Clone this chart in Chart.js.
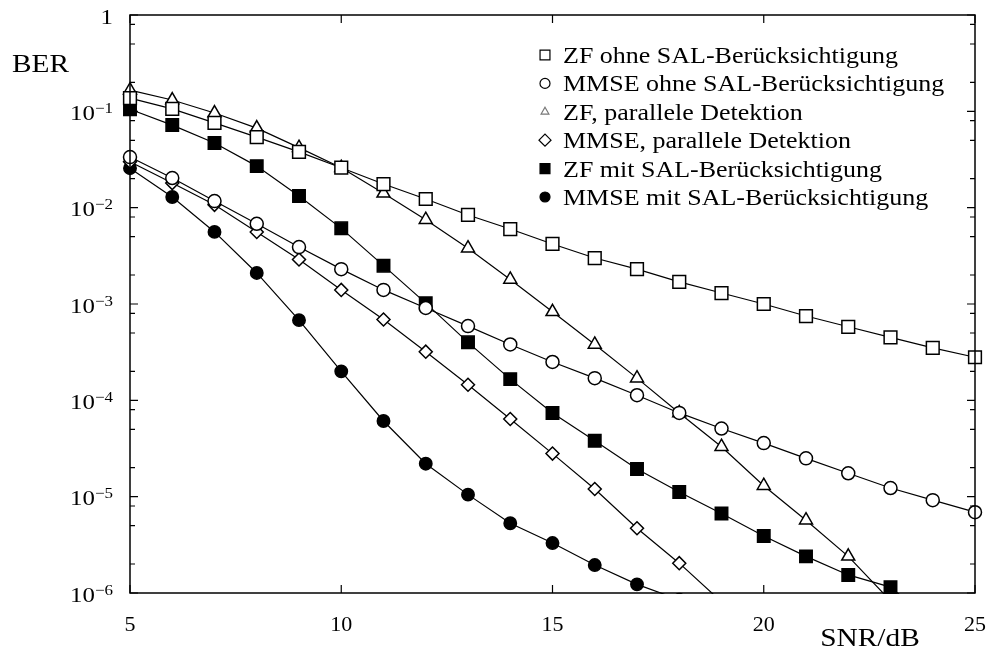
<!DOCTYPE html>
<html>
<head>
<meta charset="utf-8">
<script src="https://cdn.jsdelivr.net/npm/chart.js@4.4.0/dist/chart.umd.min.js"></script>
<style>
  html, body { margin: 0; padding: 0; background: #fff; }
  canvas { display: block; }
</style>
</head>
<body>
<canvas id="ber" width="990" height="657"></canvas>
<script>
// SNR in dB and measured bit error rates (null = below plotted range)
const snr = [5, 6, 7, 8, 9, 10, 11, 12, 13, 14, 15, 16, 17, 18, 19, 20, 21, 22, 23, 24, 25];
const zfOhne = [0.137, 0.106, 0.076, 0.054, 0.038, 0.026, 0.0176, 0.0123, 0.0084, 0.006, 0.0042,
  0.003, 0.0023, 0.0017, 0.0013, 0.001, 0.00075, 0.00058, 0.00045, 0.00035, 0.00028];
const mmseOhne = [0.0335, 0.0203, 0.0117, 0.0068, 0.0039, 0.0023, 0.0014, 0.00091, 0.00059, 0.00038, 0.00025,
  0.00017, 0.000113, 7.4e-5, 5.1e-5, 3.6e-5, 2.5e-5, 1.75e-5, 1.23e-5, 9.2e-6, 6.9e-6];
const zfParallel = [0.166, 0.131, 0.096, 0.067, 0.042, 0.026, 0.0141, 0.0075, 0.0038, 0.0018, 0.00083,
  0.00038, 0.00017, 7.4e-5, 3.3e-5, 1.3e-5, 5.7e-6, 2.4e-6, 8.3e-7, null, null];
const mmseParallel = [0.030, 0.018, 0.0107, 0.0056, 0.0029, 0.0014, 0.00069, 0.00032, 0.000145, 6.4e-5, 2.8e-5,
  1.2e-5, 4.7e-6, 2.04e-6, 8.1e-7, null, null, null, null, null, null];
const zfMit = [0.105, 0.072, 0.047, 0.027, 0.0132, 0.0061, 0.0025, 0.00102, 0.0004, 0.000166, 7.4e-5,
  3.8e-5, 1.94e-5, 1.12e-5, 6.7e-6, 3.9e-6, 2.4e-6, 1.54e-6, 1.15e-6, 5e-7, null];
const mmseMit = [0.0257, 0.0129, 0.0056, 0.0021, 0.00068, 0.0002, 6.1e-5, 2.2e-5, 1.05e-5, 5.3e-6, 3.3e-6,
  1.95e-6, 1.23e-6, 8.5e-7, null, null, null, null, null, null, null];

const labels = [
  'ZF ohne SAL-Berücksichtigung',
  'MMSE ohne SAL-Berücksichtigung',
  'ZF, parallele Detektion',
  'MMSE, parallele Detektion',
  'ZF mit SAL-Berücksichtigung',
  'MMSE mit SAL-Berücksichtigung'
];
const xTicks = [5, 10, 15, 20, 25];
const yExponents = [0, -1, -2, -3, -4, -5, -6];
const minorSteps = [2, 5, 8];

const SERIF = '"Liberation Serif", serif';
const STRETCH = 1.13;

function series(label, values, style) {
  return Object.assign({
    label: label,
    data: values.map((v, i) => ({ x: snr[i], y: v })).filter(p => p.y !== null),
    borderColor: '#000',
    borderWidth: 1.2,
    pointBorderColor: '#000',
    pointBorderWidth: 1.5,
    tension: 0,
    clip: { left: 12, right: 12, top: 0, bottom: 1 }
  }, style);
}

const datasets = [
  series(labels[0], zfOhne, { pointStyle: 'rect', pointRadius: 9, pointBackgroundColor: '#fff', legendRadius: 7 }),
  series(labels[1], mmseOhne, { pointStyle: 'circle', pointRadius: 6.5, pointBackgroundColor: '#fff', legendRadius: 5 }),
  series(labels[2], zfParallel, { pointStyle: 'triangle', pointRadius: 7.5, pointBackgroundColor: '#fff', legendRadius: 4.5, legendColor: '#777' }),
  series(labels[3], mmseParallel, { pointStyle: 'rectRot', pointRadius: 6.5, pointBackgroundColor: '#fff', legendRadius: 6 }),
  series(labels[4], zfMit, { pointStyle: 'rect', pointRadius: 8.8, pointBackgroundColor: '#000', legendRadius: 7 }),
  series(labels[5], mmseMit, { pointStyle: 'circle', pointRadius: 6.2, pointBackgroundColor: '#000', legendRadius: 5 })
];

// text is a bit wider than the plain font
function wideText(ctx, text, x, y, align) {
  const w = ctx.measureText(text).width * STRETCH;
  const left = align === 'right' ? x - w : align === 'center' ? x - w / 2 : x;
  ctx.save();
  ctx.translate(left, y);
  ctx.scale(STRETCH, 1);
  ctx.textAlign = 'left';
  ctx.fillText(text, 0, 0);
  ctx.restore();
  return w;
}

const frame = {
  id: 'frame',
  afterDraw(chart) {
    const { ctx, chartArea: a } = chart;
    const x = chart.scales.x, y = chart.scales.y;
    ctx.save();
    ctx.strokeStyle = '#000';
    ctx.fillStyle = '#000';
    ctx.lineWidth = 1.5;
    ctx.strokeRect(a.left, a.top, a.right - a.left, a.bottom - a.top);

    // inward ticks on all four sides
    ctx.lineWidth = 1.2;
    ctx.beginPath();
    xTicks.forEach(v => {
      const px = x.getPixelForValue(v);
      ctx.moveTo(px, a.bottom); ctx.lineTo(px, a.bottom - 8);
      ctx.moveTo(px, a.top); ctx.lineTo(px, a.top + 8);
    });
    yExponents.forEach(e => {
      const py = y.getPixelForValue(Math.pow(10, e));
      ctx.moveTo(a.left, py); ctx.lineTo(a.left + 8, py);
      ctx.moveTo(a.right, py); ctx.lineTo(a.right - 8, py);
      if (e > -6) {
        minorSteps.forEach(m => {
          const pm = y.getPixelForValue(m * Math.pow(10, e - 1));
          ctx.moveTo(a.left, pm); ctx.lineTo(a.left + 5, pm);
          ctx.moveTo(a.right, pm); ctx.lineTo(a.right - 5, pm);
        });
      }
    });
    ctx.stroke();

    // y tick labels 1, 10^-1 ... 10^-6
    ctx.textBaseline = 'alphabetic';
    const rightEdge = a.left - 17;
    yExponents.forEach(e => {
      const py = y.getPixelForValue(Math.pow(10, e));
      if (e === 0) {
        ctx.font = '22px ' + SERIF;
        wideText(ctx, '1', rightEdge, py + 8.5, 'right');
        return;
      }
      ctx.font = '15px ' + SERIF;
      const we = wideText(ctx, '\u2212' + (-e), rightEdge, py + 1.5, 'right');
      ctx.font = '22px ' + SERIF;
      wideText(ctx, '10', rightEdge - we, py + 8.5, 'right');
    });

    // axis titles
    ctx.font = '26px ' + SERIF;
    wideText(ctx, 'BER', 12, 72, 'left');
    wideText(ctx, 'SNR/dB', 870, 646, 'center');

    // legend
    const lx = 545, tx = 563;
    chart.data.datasets.forEach((ds, i) => {
      const ly = 55 + i * 28.4;
      ctx.fillStyle = ds.pointBackgroundColor;
      ctx.strokeStyle = ds.legendColor || '#000';
      Chart.helpers.drawPoint(ctx, {
        pointStyle: ds.pointStyle, radius: ds.legendRadius, borderWidth: 1.2, rotation: 0
      }, lx, ly);
      ctx.fillStyle = '#000';
      ctx.font = '23px ' + SERIF;
      wideText(ctx, ds.label, tx, ly + 8, 'left');
    });
    ctx.restore();
  }
};

function draw() {
  new Chart(document.getElementById('ber'), {
    type: 'line',
    data: { datasets: datasets },
    options: {
      responsive: false,
      animation: false,
      layout: { padding: { left: 0, right: 15, top: 15, bottom: 0 } },
      plugins: { legend: { display: false }, tooltip: { enabled: false } },
      scales: {
        x: {
          type: 'linear',
          min: 5,
          max: 25,
          grid: { display: false },
          border: { display: false },
          ticks: {
            stepSize: 5,
            color: '#000',
            padding: 11,
            font: { family: SERIF, size: 22 },
            maxRotation: 0
          },
          afterFit(scale) {
            scale.height = 64;
            scale.paddingLeft = 0;
            scale.paddingRight = 0;
          }
        },
        y: {
          type: 'logarithmic',
          min: 1e-6,
          max: 1,
          grid: { display: false },
          border: { display: false },
          ticks: { display: false },
          afterFit(scale) { scale.width = 130; }
        }
      }
    },
    plugins: [frame]
  });
}

// make sure the serif face is ready before the canvas text is drawn
Promise.all([
  document.fonts.load('22px "Liberation Serif"'),
  document.fonts.load('15px "Liberation Serif"')
]).then(draw, draw);
</script>
</body>
</html>
